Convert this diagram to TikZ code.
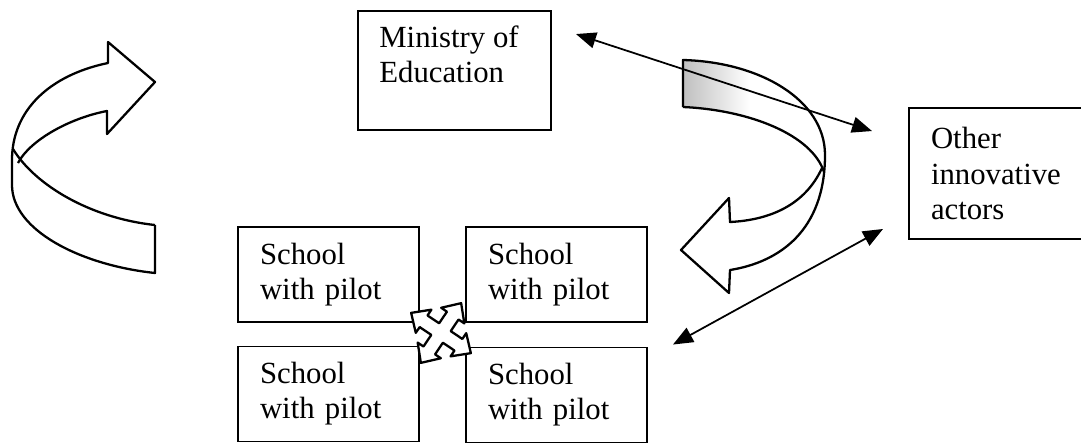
\documentclass[tikz,border=0pt]{standalone}
\usepackage{fontspec}
\setmainfont{Liberation Serif}
\usetikzlibrary{arrows.meta,calc}
\tikzset{
  txt/.style={inner sep=0pt, align=left, font=\fontsize{17.5}{20}\selectfont},
  box/.style={draw, line width=1.1pt, txt},
  school/.style={box, minimum width=3.62cm, minimum height=1.9cm, text width=2.74cm},
  ribbon/.style={line width=1.3pt, line join=round},
  link/.style={line width=1pt, {Triangle[length=4mm,width=3.2mm]}-{Triangle[length=4mm,width=3.2mm]}},
}
\begin{document}
\begin{tikzpicture}[x=0.2mm, y=-0.2mm]
\useasboundingbox (0,0) rectangle (1081,446);

% left turning ribbon
\draw[ribbon] (155,225) -- (155,273) .. controls (80,265) and (12,230) .. (12,185) -- (12,160)
  .. controls (12,110) and (50,75) .. (108,63) -- (108,42) -- (155,82) -- (107,134) -- (107,111)
  .. controls (70,118) and (30,140) .. (18,163);
\draw[ribbon] (13,149) .. controls (35,185) and (90,218) .. (155,225);

% right turning ribbon, shaded end
\begin{scope}
\clip (683,60) .. controls (760,62) and (825,100) .. (825,155) -- (824,172)
  .. controls (812,135) and (750,110) .. (683,107) -- cycle;
\shade[left color=gray!50, right color=white] (683,55) rectangle (750,115);
\end{scope}
\draw[ribbon] (683,107) -- (683,60) .. controls (760,62) and (825,100) .. (825,155)
  .. controls (825,230) and (780,262) .. (730,270) -- (729,293) -- (681,250) -- (729,198) -- (730,222)
  .. controls (770,220) and (805,205) .. (822,168);
\draw[ribbon] (683,107) .. controls (750,110) and (812,135) .. (824,172);

\node[box, minimum width=3.86cm, minimum height=2.38cm,
  label={[txt, anchor=north west, xshift=0.44cm, yshift=-0.3cm]north west:Ministry of\\Education}]
  (min) at (454.5,70.5) {};
\node[box, minimum width=3.5cm, minimum height=2.62cm, text width=2.62cm] (other) at (996.5,173.5)
  {Other\\innovative\\actors};

\node[school] (s1) at (328.5,274.5) {School\\with pilot};
\node[school] (s2) at (556.5,274.5) {School\\with pilot};
\node[school] (s3) at (328.5,394) {School\\with pilot};
\node[school] (s4) at (556.5,395) {School\\with pilot};

% exchange between the schools
\begin{scope}[shift={(441,333)}, rotate=56]
\draw[ribbon, fill=white] (7,7) -- (21,7) -- (21,14) -- (36,0) -- (21,-14) -- (21,-7) -- (7,-7)
  -- (7,-21) -- (14,-21) -- (0,-36) -- (-14,-21) -- (-7,-21) -- (-7,-7) -- (-21,-7) -- (-21,-14)
  -- (-36,0) -- (-21,14) -- (-21,7) -- (-7,7) -- (-7,21) -- (-14,21) -- (0,36) -- (14,21) -- (7,21) -- cycle;
\end{scope}

\coordinate (minend) at ($(min.north east)+(24,24)$);
\coordinate (othtop) at ($(other.north west)+(-36,24)$);
\coordinate (othbot) at ($(other.south west)+(-25,-11)$);
\coordinate (schend) at ($(s4.north east)+(25,-2)$);
\draw[link] (minend) -- (othtop);
\draw[link] (schend) -- (othbot);
\end{tikzpicture}
\end{document}
